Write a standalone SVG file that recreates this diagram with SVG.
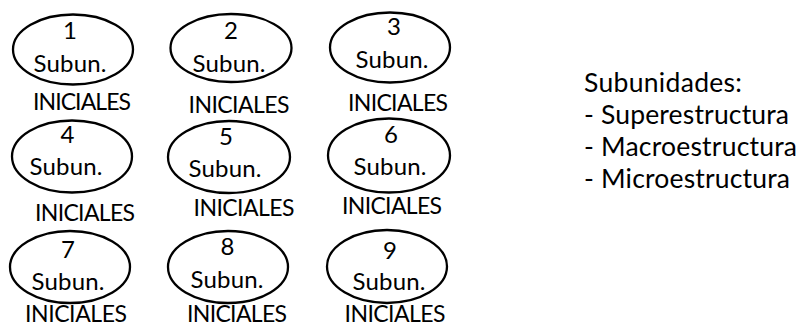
<svg xmlns="http://www.w3.org/2000/svg" width="800" height="326" viewBox="0 0 800 326">
<style>
.e{fill:#fff;stroke:#000;stroke-width:2.3}
.t{font-family:Lato,"Open Sans",sans-serif;font-size:24px;fill:#000;text-anchor:middle}
.i{font-family:Lato,"Open Sans",sans-serif;font-size:23px;fill:#000;text-anchor:middle}
.l{font-family:Lato,"Open Sans",sans-serif;font-size:26.5px;fill:#000}
</style>
<rect width="800" height="326" fill="#fff"/>
<g id="connectors"></g>
<g id="n1"><ellipse class="e" cx="73" cy="49.5" rx="60" ry="35"/><text class="t" x="70" y="39">1</text><text class="t" x="70" y="72" textLength="73">Subun.</text><text class="i" x="82" y="110" textLength="98">INICIALES</text></g>
<g id="n2"><ellipse class="e" cx="231" cy="48" rx="60.5" ry="34"/><text class="t" x="231" y="39">2</text><text class="t" x="229" y="72" textLength="73">Subun.</text><text class="i" x="239" y="113" textLength="101">INICIALES</text></g>
<g id="n3"><ellipse class="e" cx="390" cy="47.5" rx="60" ry="35"/><text class="t" x="394" y="35">3</text><text class="t" x="392" y="68" textLength="73">Subun.</text><text class="i" x="398" y="111" textLength="100">INICIALES</text></g>
<g id="n4"><ellipse class="e" cx="72" cy="156.5" rx="60" ry="36"/><text class="t" x="67.5" y="143">4</text><text class="t" x="66" y="175" textLength="73">Subun.</text><text class="i" x="85" y="221" textLength="100">INICIALES</text></g>
<g id="n5"><ellipse class="e" cx="229" cy="157" rx="61" ry="36"/><text class="t" x="226" y="145">5</text><text class="t" x="225" y="177" textLength="73">Subun.</text><text class="i" x="244" y="216" textLength="101">INICIALES</text></g>
<g id="n6"><ellipse class="e" cx="389" cy="155.5" rx="61" ry="37"/><text class="t" x="391" y="143">6</text><text class="t" x="390" y="175" textLength="73">Subun.</text><text class="i" x="392" y="214" textLength="100">INICIALES</text></g>
<g id="n7"><ellipse class="e" cx="70" cy="267" rx="60" ry="36"/><text class="t" x="68" y="258">7</text><text class="t" x="68" y="290" textLength="73">Subun.</text><text class="i" x="76" y="322" textLength="102">INICIALES</text></g>
<g id="n8"><ellipse class="e" cx="228" cy="267" rx="60" ry="36"/><text class="t" x="227.5" y="255">8</text><text class="t" x="227" y="288" textLength="73">Subun.</text><text class="i" x="237" y="322" textLength="100">INICIALES</text></g>
<g id="n9"><ellipse class="e" cx="387" cy="266.5" rx="60" ry="36.5"/><text class="t" x="390" y="259">9</text><text class="t" x="389" y="290" textLength="73">Subun.</text><text class="i" x="395" y="322" textLength="101">INICIALES</text></g>
<g id="legend"><text class="l" x="584" y="92" textLength="158">Subunidades:</text><text class="l" x="584" y="124" textLength="205">- Superestructura</text><text class="l" x="584" y="156" textLength="213">- Macroestructura</text><text class="l" x="584" y="188" textLength="206">- Microestructura</text></g>
</svg>
